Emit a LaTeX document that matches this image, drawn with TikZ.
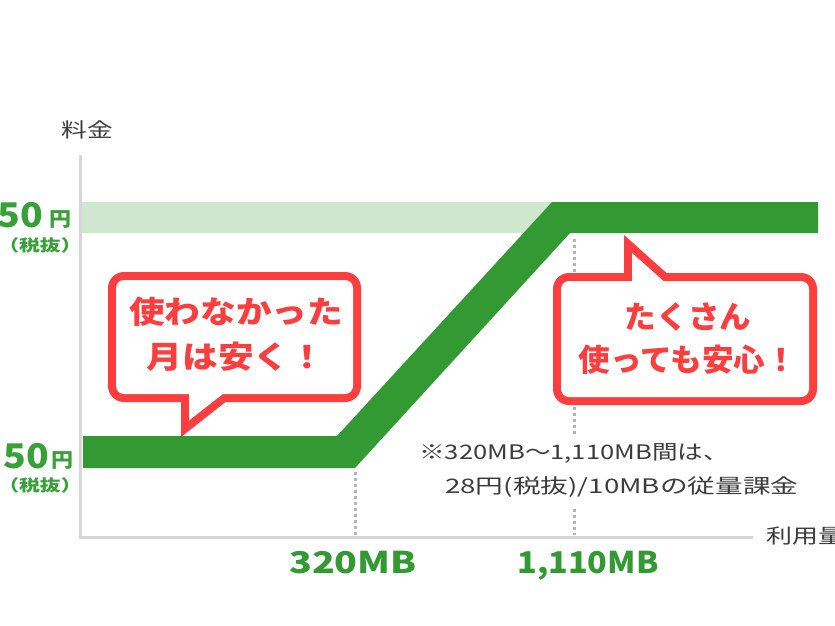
\documentclass[tikz,border=0pt]{standalone}
\usepackage{fontspec}
\newfontfamily\jp{Noto Sans CJK JP}
\definecolor{grn}{RGB}{51,153,51}
\definecolor{lgrn}{RGB}{207,230,207}
\definecolor{bred}{RGB}{252,62,62}
\definecolor{axgray}{RGB}{214,214,214}
\definecolor{dotgray}{RGB}{180,180,180}
\definecolor{tgray}{RGB}{60,60,60}
\definecolor{lblgrn}{RGB}{55,160,55}
\newcommand{\hsc}[2]{\scalebox{#1}[1]{#2}}
\tikzset{
  bubtxt/.style={text=bred, font=\jp\bfseries\fontsize{31}{31}\selectfont, anchor=base},
  axlbl/.style={text=tgray, font=\jp\fontsize{20}{20}\selectfont, anchor=base},
  mblbl/.style={text=grn, font=\jp\bfseries\fontsize{30}{30}\selectfont, anchor=base},
  yenbig/.style={text=lblgrn, font=\jp\bfseries\fontsize{34}{34}\selectfont, anchor=base east},
  yensmall/.style={text=lblgrn, font=\jp\bfseries\fontsize{20}{20}\selectfont, anchor=base west},
  taxlbl/.style={text=lblgrn, font=\jp\bfseries\fontsize{16}{16}\selectfont, anchor=center},
  notetxt/.style={text=tgray, font=\jp\fontsize{20}{20}\selectfont, anchor=base west, fill=white, inner ysep=9pt},
  dotline/.style={draw=dotgray, line width=3pt, dash pattern=on 3pt off 3pt},
  axisline/.style={draw=axgray, line width=2.5pt},
}
\begin{document}
\begin{tikzpicture}[x=1pt,y=-1pt, every node/.style={inner sep=0pt}]
\useasboundingbox (0,0) rectangle (835,625);
\clip (0,0) rectangle (835,625);
\fill[white] (0,0) rectangle (835,625);

% band and price line
\fill[lgrn] (82,202) rectangle (560,233);
\fill[grn] (83,436) -- (337,436) -- (552,202) -- (818,202) -- (818,233) -- (570,233) -- (355,468) -- (83,468) -- cycle;

% dotted guides
\coordinate (d1t) at (355,472);
\coordinate (d1b) at (355,535);
\coordinate (d2t) at (574,239);
\coordinate (d2b) at (574,535);
\draw[dotline] (d1t) -- (d1b);
\draw[dotline] (d2t) -- (d2b);

% axes
\coordinate (origin) at (80.5,537.5);
\coordinate (ytop) at (80.5,155);
\coordinate (xend) at (753,537.5);
\draw[axisline] (ytop) -- (origin) -- (xend);

% axis labels
\node[axlbl] (ylab) at (87,137) {\hsc{1.28}{料金}};
\node[axlbl, anchor=base west] (xlab) at (766,543) {\hsc{1.3}{利用量}};

% price labels
\node[yenbig] (p1) at (43,227) {\hsc{1.1}{50}};
\node[yensmall] (p1y) at (49,226) {\hsc{1.1}{円}};
\node[taxlbl] (p1t) at (40,245) {\hsc{1.3}{（税抜）}};
\node[yenbig] (p2) at (49,468) {\hsc{1.1}{50}};
\node[yensmall] (p2y) at (51,467) {\hsc{1.1}{円}};
\node[taxlbl] (p2t) at (40,485) {\hsc{1.3}{（税抜）}};

% MB labels
\node[mblbl] (mb1) at (353,573) {\hsc{1.25}{320MB}};
\node[mblbl] (mb2) at (588,573) {\hsc{1.08}{1,110MB}};

% note
\node[notetxt] (n1) at (419,459) {\hsc{1.28}{※320MB～1,110MB間は、}};
\node[notetxt] (n2) at (445,493) {\hsc{1.385}{28円(税抜)/10MBの従量課金}};

% left bubble
\fill[bred, rounded corners=16pt] (108,272) rectangle (361,402);
\fill[bred] (181,400) -- (181,437) -- (228,400) -- cycle;
\fill[white, rounded corners=8pt] (116,280) rectangle (353,394);
\fill[white] (189,390) -- (189,420.5) -- (227.8,390) -- cycle;
\node[bubtxt] (b1a) at (236,323) {\hsc{1.15}{使わなかった}};
\node[bubtxt] (b1b) at (236,368) {\hsc{1.15}{月は安く！}};

% right bubble
\fill[bred, rounded corners=16pt] (553,273) rectangle (817,405);
\fill[bred] (624,277) -- (624,235) -- (671,277) -- cycle;
\fill[white, rounded corners=8pt] (561,281) rectangle (809,397);
\fill[white] (632,285) -- (632,253) -- (668,285) -- cycle;
\node[bubtxt] (b2a) at (688,328) {\hsc{1.02}{たくさん}};
\node[bubtxt] (b2b) at (688,371) {\hsc{1.02}{使っても安心！}};
\end{tikzpicture}
\end{document}
